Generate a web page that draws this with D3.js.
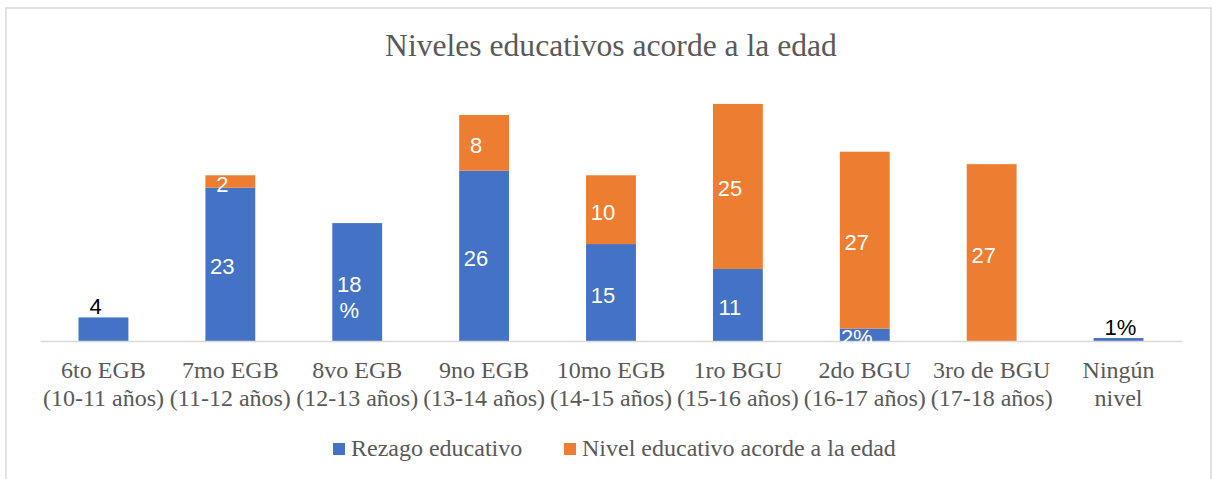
<!DOCTYPE html>
<html>
<head>
<meta charset="utf-8">
<script src="https://cdn.jsdelivr.net/npm/d3@7"></script>
<style>
  body { margin: 0; background: #fff; }
  .serif { font-family: "Liberation Serif", "Times New Roman", Tinos, Times, "DejaVu Serif", serif; }
  .sans { font-family: "Liberation Sans", Arial, Arimo, sans-serif; }
</style>
</head>
<body>
<div id="chart"></div>
<script>
// data (percent of students)
const categories = [
  ["6to EGB", "(10-11 años)"],
  ["7mo EGB", "(11-12 años)"],
  ["8vo EGB", "(12-13 años)"],
  ["9no EGB", "(13-14 años)"],
  ["10mo EGB", "(14-15 años)"],
  ["1ro BGU", "(15-16 años)"],
  ["2do BGU", "(16-17 años)"],
  ["3ro de BGU", "(17-18 años)"],
  ["Ningún", "nivel"]
];
const rezago = [3.6, 23.4, 18.0, 26.0, 14.8, 11.0, 1.9, 0, 0.45];
const acorde = [0, 1.9, 0, 8.5, 10.5, 25.2, 27.0, 27.0, 0];
const rezagoLabels = ["4", "23", "18\n%", "26", "15", "11", "2%", "", "1%"];
const acordeLabels = ["", "2", "", "8", "10", "25", "27", "27", ""];
const seriesNames = ["Rezago educativo", "Nivel educativo acorde a la edad"];
const colors = ["#4472C4", "#ED7D31"];

(function () {
  const width = 1215;
  const height = 479;
  const baseY = 341;

  const svg = d3.select("#chart").append("svg")
    .attr("width", width).attr("height", height);

  // chart frame
  svg.append("rect")
    .attr("x", 6).attr("y", 8)
    .attr("width", 1205).attr("height", 490)
    .attr("fill", "none").attr("stroke", "#d9d9d9").attr("stroke-width", 1.5);

  svg.append("text")
    .attr("class", "serif")
    .attr("x", 611).attr("y", 56)
    .attr("text-anchor", "middle")
    .style("font-size", "31.6px")
    .style("fill", "#595959")
    .text("Niveles educativos acorde a la edad");

  const x = d3.scaleBand()
    .domain(d3.range(categories.length))
    .range([40, 1182])
    .paddingInner(0.607)
    .paddingOuter(0.3035);

  const y = d3.scaleLinear()
    .domain([0, 40])
    .range([baseY, baseY - 40 * 6.55]);

  const rows = categories.map((c, i) => ({ i: i, rezago: rezago[i], acorde: acorde[i] }));
  const stacked = d3.stack().keys(["rezago", "acorde"])(rows);

  // bars
  stacked.forEach((layer, k) => {
    svg.append("g")
      .selectAll("rect")
      .data(layer.filter((d) => d[1] - d[0] > 0))
      .enter()
      .append("rect")
      .attr("x", (d) => x(d.data.i))
      .attr("y", (d) => y(d[1]))
      .attr("width", x.bandwidth())
      .attr("height", (d) => y(d[0]) - y(d[1]))
      .attr("fill", colors[k]);
  });

  // x axis line + category labels
  const axis = svg.append("g")
    .attr("transform", `translate(0, ${baseY})`)
    .call(d3.axisBottom(x).tickSize(0).tickFormat(""));
  axis.select(".domain").attr("stroke", "#d9d9d9").attr("stroke-width", 1.5);

  const catText = svg.append("g")
    .selectAll("text")
    .data(categories)
    .enter()
    .append("text")
    .attr("class", "serif")
    .attr("text-anchor", "middle")
    .style("font-size", "24px")
    .style("fill", "#595959");
  catText.each(function (c, i) {
    const t = d3.select(this);
    c.forEach((line, j) => {
      t.append("tspan")
        .attr("x", x(i) + x.bandwidth() / 2)
        .attr("y", baseY + 37 + j * 27.5)
        .text(line);
    });
  });

  // data labels
  const labelSets = [rezagoLabels, acordeLabels];
  stacked.forEach((layer, k) => {
    layer.forEach((d, i) => {
      const txt = labelSets[k][i];
      if (!txt) return;
      const segH = y(d[0]) - y(d[1]);
      const onTop = k === 0 && acorde[i] === 0 && segH < 30;
      const t = svg.append("text")
        .attr("class", "sans")
        .style("font-size", "22px")
        .style("fill", onTop ? "#000" : "#fff");
      let tx, ty;
      if (onTop) {
        tx = x(i) + 11;
        ty = y(d[1]) - 3;
        t.attr("text-anchor", "start");
      } else {
        tx = x(i) + x.bandwidth() / 2 - 8;
        ty = (y(d[0]) + y(d[1])) / 2 + 10;
        t.attr("text-anchor", "middle");
      }
      txt.split("\n").forEach((line, j) => {
        t.append("tspan").attr("x", tx).attr("y", ty + j * 26).text(line);
      });
    });
  });

  // legend
  const legendX = [333, 564];
  const legend = svg.append("g");
  seriesNames.forEach((name, k) => {
    legend.append("rect")
      .attr("x", legendX[k]).attr("y", 443)
      .attr("width", 12).attr("height", 12)
      .attr("fill", colors[k]);
    legend.append("text")
      .attr("class", "serif")
      .attr("x", legendX[k] + 18).attr("y", 456)
      .style("font-size", "24px")
      .style("fill", "#595959")
      .text(name);
  });
})();
</script>
</body>
</html>
